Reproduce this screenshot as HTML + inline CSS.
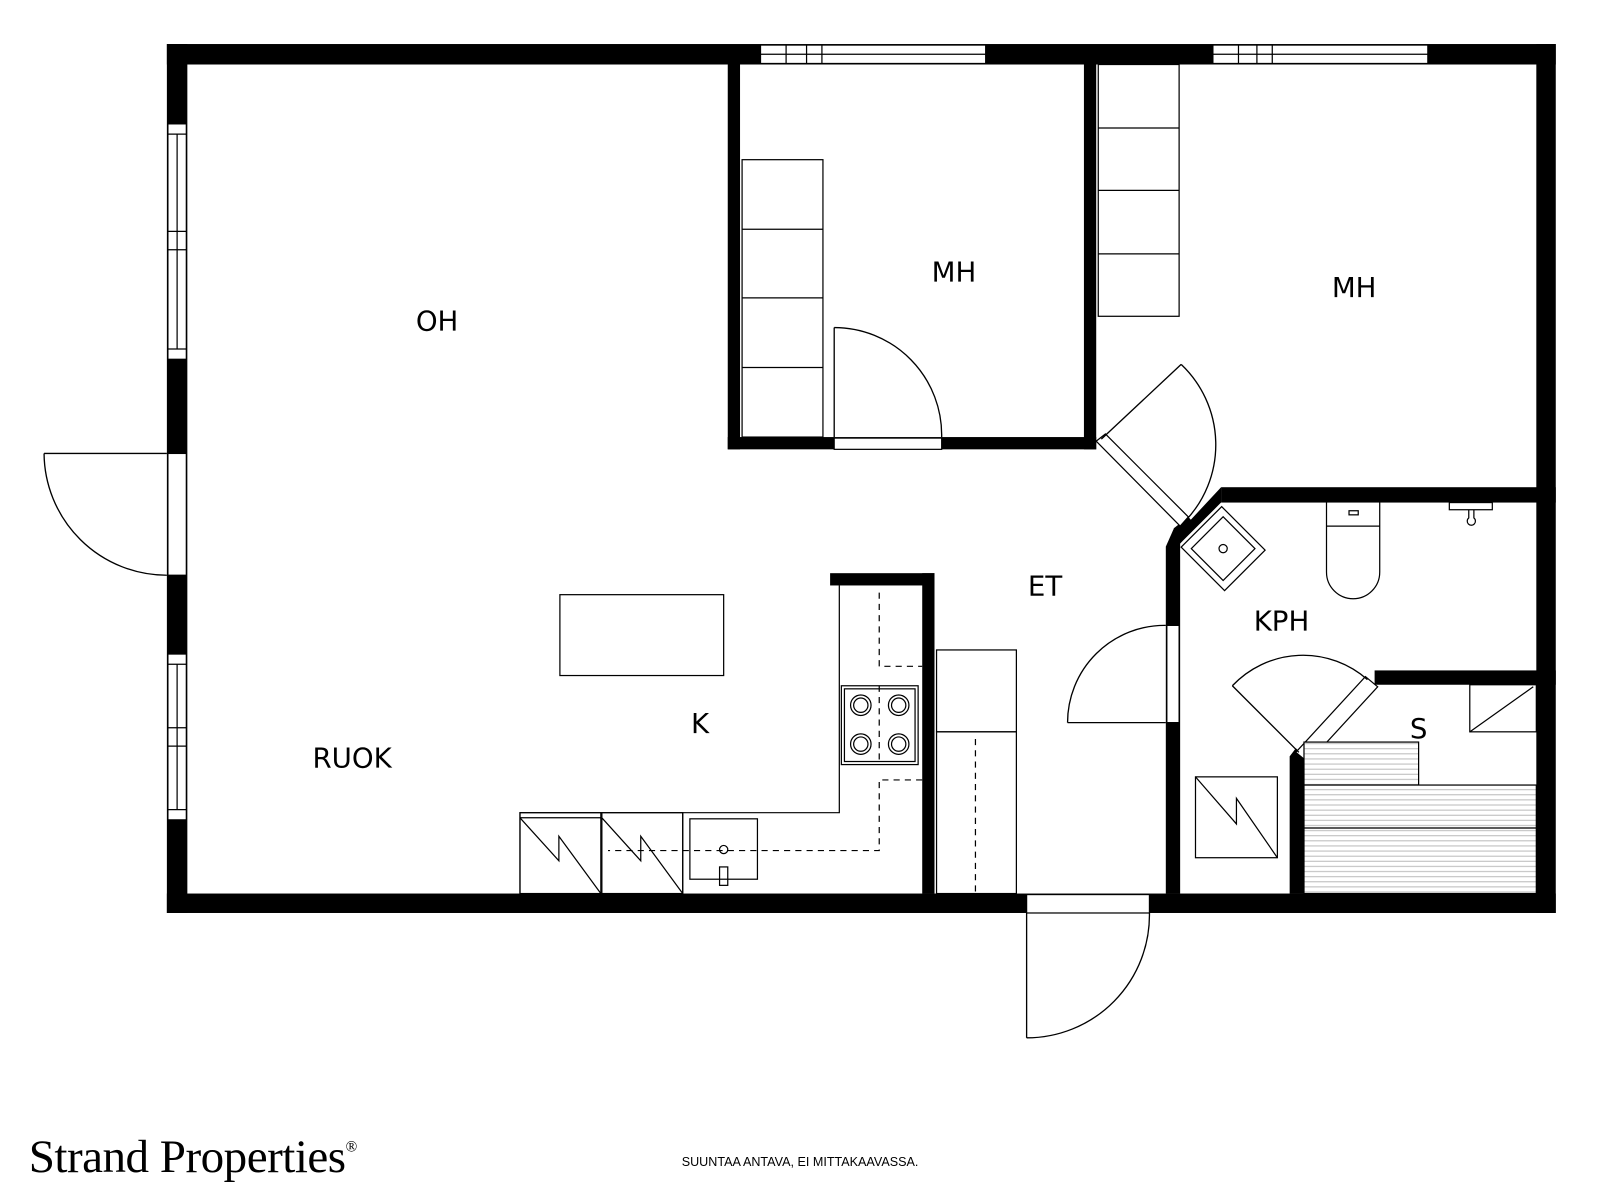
<!DOCTYPE html>
<html><head><meta charset="utf-8"><style>
html,body{margin:0;padding:0;background:#fff;width:1600px;height:1200px;overflow:hidden}
svg{display:block}
text{font-family:"DejaVu Sans","Liberation Sans",sans-serif}
</style></head><body>
<svg width="1600" height="1200" viewBox="0 0 1600 1200" xmlns="http://www.w3.org/2000/svg">
<defs>
<pattern id="st" width="6" height="5" patternUnits="userSpaceOnUse"><rect width="6" height="5" fill="#fff"/><line x1="0" y1="2.5" x2="6" y2="2.5" stroke="#bbb" stroke-width="1"/></pattern>
</defs>
<g transform="translate(-2,-1) scale(1.0235)">
<g fill="#000">
<rect x="165" y="44" width="1357" height="20"/>
<rect x="165" y="874" width="1357" height="19"/>
<rect x="165" y="44" width="20" height="849"/>
<rect x="1503" y="44" width="19" height="849"/>
<rect x="713" y="64" width="12" height="376"/>
<rect x="713" y="428" width="360" height="12"/>
<rect x="1061" y="64" width="12" height="376"/>
<rect x="1195" y="477" width="327" height="15"/>
<polygon points="1195,477 1195,492 1155,532 1155,874 1141,874 1141,535"/>
<polygon points="1149,517 1163,506 1170,514 1155,532 1141,535"/>
<rect x="1345" y="656" width="177" height="14"/>
<polygon points="1262,740 1276,740 1276,874 1262,874"/>
<polygon points="1262,740 1268,732 1282,744 1276,750"/>
<rect x="813" y="561" width="102" height="12"/>
<rect x="903" y="561" width="12" height="313"/>
</g>
<g fill="#fff" stroke="#000" stroke-width="1.2">
<rect x="745" y="45" width="220" height="18"/>
<line x1="745" y1="54" x2="965" y2="54"/><line x1="770" y1="45" x2="770" y2="63"/><line x1="790" y1="45" x2="790" y2="63"/><line x1="805" y1="45" x2="805" y2="63"/>
<rect x="1187" y="45" width="210" height="18"/>
<line x1="1187" y1="54" x2="1397" y2="54"/><line x1="1212" y1="45" x2="1212" y2="63"/><line x1="1230" y1="45" x2="1230" y2="63"/><line x1="1245" y1="45" x2="1245" y2="63"/>
<rect x="166" y="122" width="18" height="230"/>
<line x1="175" y1="132" x2="175" y2="342"/><line x1="166" y1="132" x2="184" y2="132"/><line x1="166" y1="227" x2="184" y2="227"/><line x1="166" y1="245" x2="184" y2="245"/><line x1="166" y1="342" x2="184" y2="342"/>
<rect x="166" y="640" width="18" height="162"/>
<line x1="175" y1="650" x2="175" y2="792"/><line x1="166" y1="650" x2="184" y2="650"/><line x1="166" y1="712" x2="184" y2="712"/><line x1="166" y1="730" x2="184" y2="730"/><line x1="166" y1="792" x2="184" y2="792"/>
<rect x="166" y="444" width="18" height="119"/>
<rect x="1005" y="875" width="120" height="18"/>
<rect x="817" y="429" width="105" height="11"/>
<rect x="1142" y="612" width="12" height="95"/>
<polygon points="1073,432 1082,425 1163,506 1155,515"/>
<polygon points="1336,662 1348,672 1280,746 1268,736"/>
</g>
<g fill="none" stroke="#000" stroke-width="1.3">
<line x1="45" y1="444" x2="165" y2="444"/><path d="M45,444 A120,120 0 0 0 165,563"/>
<line x1="1005" y1="893" x2="1005" y2="1015"/><path d="M1005,1015 A120,120 0 0 0 1125,893"/>
<line x1="817" y1="428" x2="817" y2="321"/><path d="M817,321 A105,105 0 0 1 922,428"/>
<line x1="1078" y1="430" x2="1156" y2="357"/><path d="M1156,357 A108,108 0 0 1 1160,510"/>
<line x1="1141" y1="707" x2="1045" y2="707"/><path d="M1045,707 A95,95 0 0 1 1141,612"/>
<line x1="1271" y1="736" x2="1206" y2="671"/><path d="M1206,671 A95,95 0 0 1 1338,665"/>
</g>
<g fill="none" stroke="#000" stroke-width="1.2">
<rect x="727" y="157" width="79" height="271"/><line x1="727" y1="225" x2="806" y2="225"/><line x1="727" y1="292" x2="806" y2="292"/><line x1="727" y1="360" x2="806" y2="360"/>
<rect x="1075" y="64" width="79" height="246"/><line x1="1075" y1="126" x2="1154" y2="126"/><line x1="1075" y1="187" x2="1154" y2="187"/><line x1="1075" y1="249" x2="1154" y2="249"/>
<rect x="549" y="582" width="160" height="79"/>
<polyline points="822,573 822,795 510,795 510,874"/>
<rect x="824" y="671" width="75" height="77"/><rect x="827" y="674" width="69" height="71"/>
<circle cx="843" cy="690" r="10"/><circle cx="843" cy="690" r="7"/><circle cx="880" cy="690" r="10"/><circle cx="880" cy="690" r="7"/>
<circle cx="843" cy="728" r="10"/><circle cx="843" cy="728" r="7"/><circle cx="880" cy="728" r="10"/><circle cx="880" cy="728" r="7"/>
<rect x="510" y="795" width="79" height="79"/><line x1="510" y1="800" x2="589" y2="800"/><polyline points="510,800 548,842 548,818 589,874"/>
<rect x="590" y="795" width="79" height="79"/><polyline points="590,800 628,842 628,818 669,874"/>
<rect x="676" y="801" width="66" height="59"/><rect x="705" y="848" width="8" height="18"/><circle cx="709" cy="831" r="4"/>
<line x1="669" y1="874" x2="669" y2="795"/>
<g stroke-dasharray="6,5"><polyline points="861,580 861,652 903,652"/><line x1="861" y1="671" x2="861" y2="748"/><polyline points="903,763 861,763 861,832 596,832"/><line x1="955" y1="723" x2="955" y2="874"/></g>
<rect x="917" y="636" width="78" height="80"/><rect x="917" y="716" width="78" height="158"/>
<g transform="translate(1197,537) rotate(-45)"><rect x="-28" y="-30" width="56" height="60"/><rect x="-22" y="-22" width="44" height="44"/><circle cx="0" cy="0" r="4"/></g>
<path d="M1298,492 V515 H1350 V492 M1298,515 V560 A26,26 0 0 0 1350,560 V515"/><rect x="1320" y="500" width="9" height="4"/>
<rect x="1418" y="492" width="42" height="7"/><path d="M1437,499 V507 A4,4 0 1 0 1442,507 V499"/>
<rect x="1170" y="760" width="80" height="79"/><polyline points="1170,760 1210,806 1210,781 1250,839"/>
<rect x="1438" y="670" width="65" height="46"/><polyline points="1438,716 1500,672 M1500,672 L1490,686 1470,688 1480,693" />
<rect x="1276" y="726" width="112" height="42" fill="url(#st)"/>
<rect x="1276" y="768" width="227" height="42" fill="url(#st)"/>
<rect x="1276" y="810" width="227" height="64" fill="url(#st)"/>
</g>
<g font-size="27" fill="#000" text-anchor="middle">
<text x="429" y="324">OH</text><text x="934" y="276">MH</text><text x="1325" y="291">MH</text>
<text x="1023" y="583">ET</text><text x="1254" y="617">KPH</text><text x="686" y="717">K</text>
<text x="346" y="751">RUOK</text><text x="1388" y="722">S</text>
</g>
<text x="30" y="1146" font-size="46" letter-spacing="-0.5" style="font-family:'Liberation Serif',serif">Strand Properties<tspan font-size="15" dy="-20">®</tspan></text>
<text x="668" y="1140" font-size="12.3" style="font-family:'Liberation Sans',sans-serif">SUUNTAA ANTAVA, EI MITTAKAAVASSA.</text>
</g>
</svg>
</body></html>
